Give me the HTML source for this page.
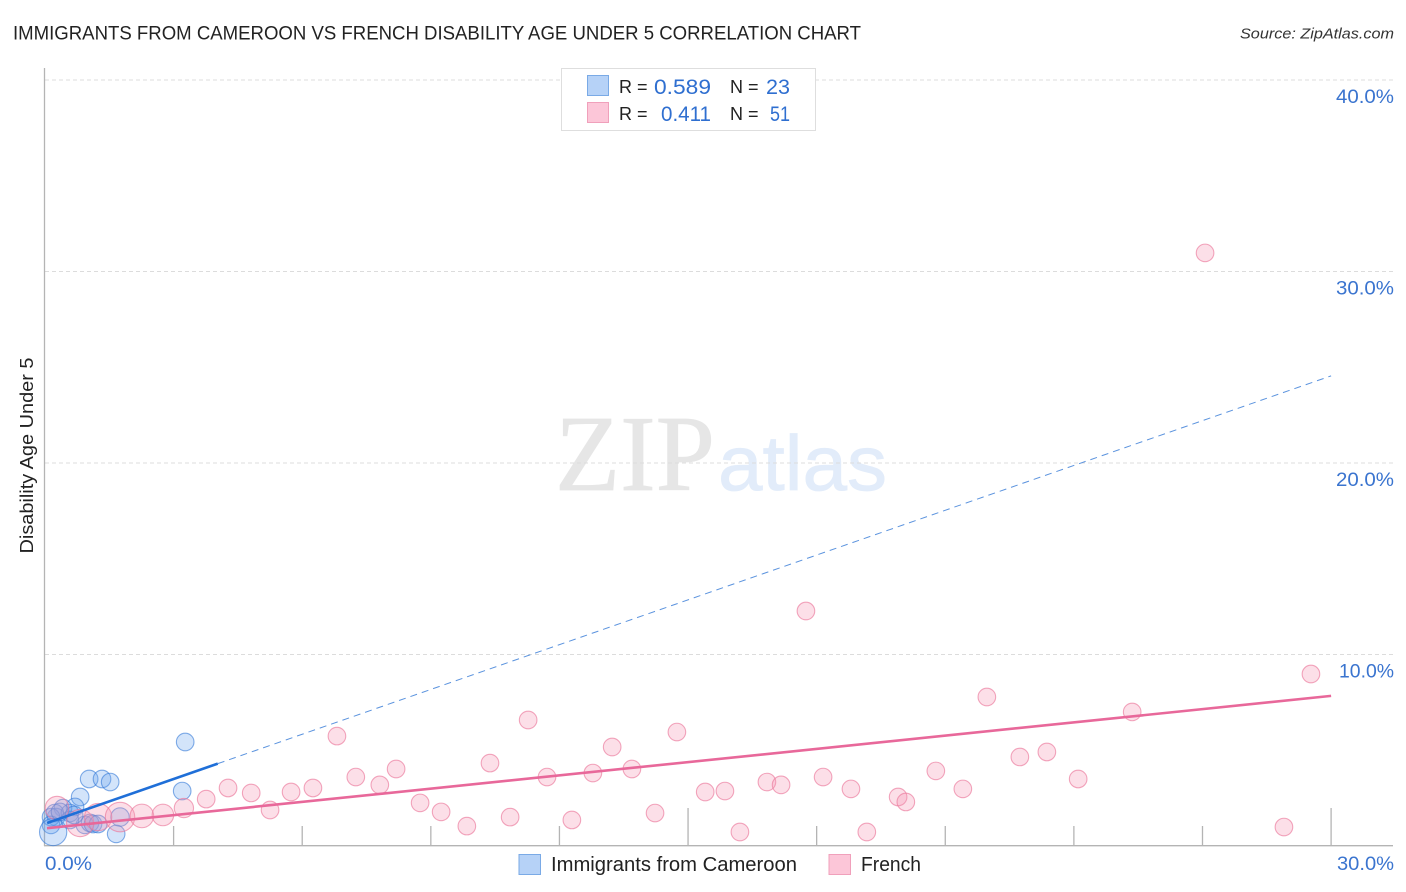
<!DOCTYPE html>
<html>
<head>
<meta charset="utf-8">
<style>
html,body{margin:0;padding:0;background:#fff;width:1406px;height:892px;overflow:hidden}
svg{display:block;font-family:"Liberation Sans",sans-serif}
</style>
</head>
<body>
<svg id="chart" width="1406" height="892" viewBox="0 0 1406 892" xmlns="http://www.w3.org/2000/svg">
  <text x="13" y="39.5" font-size="19" fill="#222" textLength="848" lengthAdjust="spacingAndGlyphs">IMMIGRANTS FROM CAMEROON VS FRENCH DISABILITY AGE UNDER 5 CORRELATION CHART</text>
  <text x="1394" y="38.5" font-size="15" font-style="italic" fill="#333" text-anchor="end" textLength="154" lengthAdjust="spacingAndGlyphs">Source: ZipAtlas.com</text>
  <text transform="translate(33,455.5) rotate(-90)" font-size="18" fill="#222" text-anchor="middle" textLength="196" lengthAdjust="spacingAndGlyphs">Disability Age Under 5</text>
  <g>
    <text x="555" y="490" font-family="'Liberation Serif',serif" font-size="108" fill="#e6e6e6" stroke="#e6e6e6" stroke-width="0.8" textLength="160" lengthAdjust="spacingAndGlyphs">ZIP</text>
    <text x="718" y="490" font-size="78" fill="#e2ecfa" stroke="#e2ecfa" stroke-width="0.8" textLength="169" lengthAdjust="spacingAndGlyphs">atlas</text>
  </g>
  <g id="grid"></g>
  <g id="axes"></g>
  <g id="blue-dots"></g>
  <g id="pink-dots"></g>
  <g id="trends"></g>
  <g>
    <rect x="561.5" y="68.5" width="254" height="62" fill="#fff" stroke="#dedede"/>
    <rect x="587.5" y="75.5" width="21" height="20" fill="#b6d2f7" stroke="#7aaae6"/>
    <rect x="587.5" y="102.5" width="21" height="20" fill="#fcc6d8" stroke="#f0a0bb"/>
    <text x="619" y="93" font-size="18" fill="#222">R =</text>
    <text x="654" y="94" font-size="21" fill="#2f6fd0" textLength="57" lengthAdjust="spacingAndGlyphs">0.589</text>
    <text x="730" y="93" font-size="18" fill="#222">N =</text>
    <text x="766" y="94" font-size="21" fill="#2f6fd0" textLength="24" lengthAdjust="spacingAndGlyphs">23</text>
    <text x="619" y="120" font-size="18" fill="#222">R =</text>
    <text x="661" y="121" font-size="21" fill="#2f6fd0" textLength="50" lengthAdjust="spacingAndGlyphs">0.411</text>
    <text x="730" y="120" font-size="18" fill="#222">N =</text>
    <text x="770" y="121" font-size="21" fill="#2f6fd0" textLength="20" lengthAdjust="spacingAndGlyphs">51</text>
  </g>
  <g>
    <rect x="519" y="854.5" width="21.5" height="20" fill="#b6d2f7" stroke="#7aaae6"/>
    <text x="551" y="871" font-size="20" fill="#222" textLength="246" lengthAdjust="spacingAndGlyphs">Immigrants from Cameroon</text>
    <rect x="829" y="854.5" width="21.5" height="20" fill="#fcc6d8" stroke="#f0a0bb"/>
    <text x="861" y="871" font-size="20" fill="#222" textLength="60" lengthAdjust="spacingAndGlyphs">French</text>
  </g>
</svg>
<script>
const yTickValues = [10, 20, 30, 40];
const yTickLabels = ['10.0%', '20.0%', '30.0%', '40.0%'];
const xTickValues = [3, 6, 9, 12, 15, 18, 21, 24, 27, 30];
const xMajorTicks = [15, 30];
const xEndLabels = ['0.0%', '30.0%'];
const cameroonX = [3.27,1.03,1.33,1.52,3.20,0.82,1.75,1.66,0.70,0.42,0.26,0.14,0.23,0.14,0.19,0.58,0.93,1.05,1.12,1.24,0.58,0.35,0.68];
const cameroonY = [5.43,3.50,3.50,3.34,2.87,2.56,1.51,0.63,2.04,1.98,1.51,1.51,1.72,1.10,0.73,1.72,1.10,1.20,1.15,1.15,1.36,1.78,1.62];
const cameroonWeight = [1,1,1,1,1,1,1.1,1,1,1,1,1,1,1,2.4,1,1,1,1,1,1,1,1];
const frenchX = [0.28,0.82,1.24,1.75,2.26,2.75,3.24,3.76,4.27,4.81,5.25,5.74,6.25,6.81,7.25,7.81,8.19,8.75,9.24,9.84,10.38,10.85,11.27,11.71,12.29,12.78,13.23,13.69,14.23,14.74,15.40,15.86,16.21,16.84,17.17,17.75,18.15,18.80,19.17,19.90,20.08,20.78,21.41,21.97,22.74,23.37,24.10,25.36,27.06,28.90,29.53];
const frenchY = [1.98,1.20,1.51,1.51,1.57,1.62,1.98,2.45,3.03,2.77,1.88,2.82,3.03,5.74,3.60,3.19,4.02,2.25,1.78,1.04,4.33,1.51,6.58,3.60,1.36,3.81,5.17,4.02,1.72,5.95,2.82,2.87,0.73,3.34,3.19,12.27,3.60,2.98,0.73,2.56,2.30,3.92,2.98,7.78,4.65,4.91,3.50,7.00,30.97,0.99,8.98];
const frenchWeight = [1.8,2.4,2.4,2.8,1.8,1.5,1.2,1,1,1,1,1,1,1,1,1,1,1,1,1,1,1,1,1,1,1,1,1,1,1,1,1,1,1,1,1,1,1,1,1,1,1,1,1,1,1,1,1,1,1,1];
const cameroonTrendX = [0.05, 4.03, 30];
const cameroonTrendY = [1.20, 4.3, 24.55];
const frenchTrendX = [0, 30];
const frenchTrendY = [0.93, 7.84];

const NS = 'http://www.w3.org/2000/svg';
function xScale(v) { return 45 + v * 42.87; }
function yScale(v) { return 846 - v * 19.15; }
function mk(parent, tag, attrs) {
  const el = document.createElementNS(NS, tag);
  for (const k in attrs) el.setAttribute(k, attrs[k]);
  parent.appendChild(el);
  return el;
}
const grid = document.getElementById('grid');
const axes = document.getElementById('axes');
yTickValues.forEach(function (v, i) {
  const line = mk(grid, 'line', {x1: 45, x2: 1393, y1: yScale(v), y2: yScale(v), stroke: '#dcdcdc', 'stroke-width': 1, 'stroke-dasharray': '4 3'});
  
  
  const t = mk(axes, 'text', {x: 1394, y: yScale(v) + 23, 'font-size': 19, fill: '#3a74cf', 'text-anchor': 'end', textLength: v === 10 ? 55 : 58, lengthAdjust: 'spacingAndGlyphs'});
  t.textContent = yTickLabels[i];
  
  
});
const yAxis = mk(axes, 'line', {x1: 44.5, x2: 44.5, y1: 68, y2: 846, stroke: '#b4b4b4', 'stroke-width': 1.3});


const xAxis = mk(axes, 'line', {x1: 44, x2: 1393, y1: 845.7, y2: 845.7, stroke: '#b4b4b4', 'stroke-width': 1.3});


xTickValues.forEach(function (v) {
  const top = xMajorTicks.indexOf(v) >= 0 ? 808 : 826;
  const tick = mk(axes, 'line', {x1: xScale(v), x2: xScale(v), y1: top, y2: 846, stroke: '#b4b4b4', 'stroke-width': 1.3});
  
  
});
const xLabelLeft = mk(axes, 'text', {x: 45, y: 870, 'font-size': 19, fill: '#3a74cf', textLength: 47, lengthAdjust: 'spacingAndGlyphs'});
xLabelLeft.textContent = xEndLabels[0];


const xLabelRight = mk(axes, 'text', {x: 1394, y: 870, 'font-size': 19, fill: '#3a74cf', 'text-anchor': 'end', textLength: 57, lengthAdjust: 'spacingAndGlyphs'});
xLabelRight.textContent = xEndLabels[1];



const blueDots = document.getElementById('blue-dots');
cameroonX.forEach(function (v, i) {
  const c = mk(blueDots, 'circle', {cx: xScale(v), cy: yScale(cameroonY[i]), r: 8.8 * Math.sqrt(cameroonWeight[i]), fill: 'rgba(110,165,240,0.3)', stroke: 'rgba(50,120,215,0.6)', 'stroke-width': 1.1});
  
  
});
const pinkDots = document.getElementById('pink-dots');
frenchX.forEach(function (v, i) {
  const c = mk(pinkDots, 'circle', {cx: xScale(v), cy: yScale(frenchY[i]), r: 8.8 * Math.sqrt(frenchWeight[i]), fill: 'rgba(245,150,180,0.3)', stroke: 'rgba(235,120,155,0.65)', 'stroke-width': 1.1});
  
  
});
const trends = document.getElementById('trends');
const solidBlue = mk(trends, 'line', {x1: xScale(cameroonTrendX[0]), y1: yScale(cameroonTrendY[0]), x2: xScale(cameroonTrendX[1]), y2: yScale(cameroonTrendY[1]), stroke: '#1f6fd8', 'stroke-width': 2.6});


const dashBlue = mk(trends, 'line', {x1: xScale(cameroonTrendX[1]), y1: yScale(cameroonTrendY[1]), x2: xScale(cameroonTrendX[2]), y2: yScale(cameroonTrendY[2]), stroke: '#5b93de', 'stroke-width': 1, 'stroke-dasharray': '7 5'});


const solidPink = mk(trends, 'line', {x1: xScale(frenchTrendX[0]) + 2, y1: yScale(frenchTrendY[0]), x2: xScale(frenchTrendX[1]), y2: yScale(frenchTrendY[1]), stroke: '#e8689a', 'stroke-width': 2.6});


</script>
</body>
</html>
